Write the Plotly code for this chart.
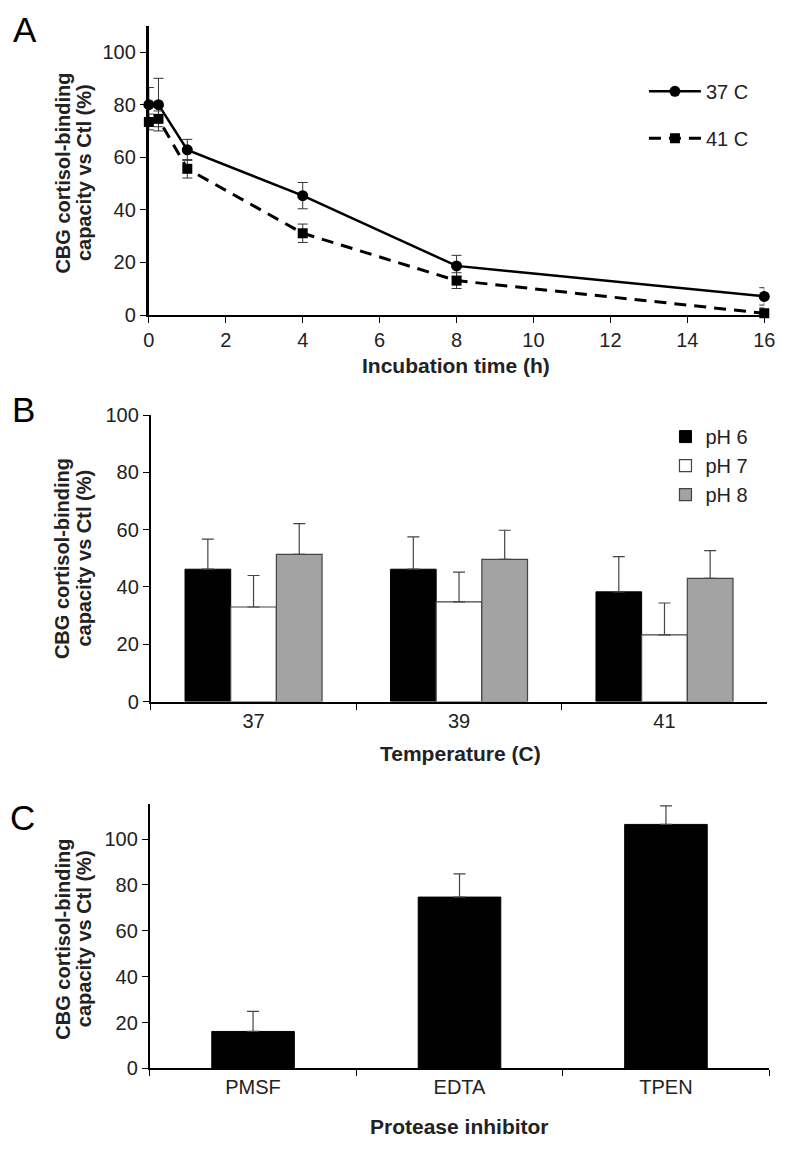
import plotly.graph_objects as go

# ---------------- data ----------------
# Panel A
time_h = [0, 0.25, 1, 4, 8, 16]
cap_37 = [80.0, 80.0, 62.8, 45.4, 18.7, 7.1]
err_37 = [6.5, 10.0, 4.0, 5.0, 4.0, 3.3]
cap_41 = [73.4, 74.6, 55.6, 31.1, 13.1, 0.7]
err_41 = [3.0, 3.0, 3.5, 3.5, 3.0, 2.0]

# Panel B
temps = ["37", "39", "41"]
ph6 = [46.2, 46.2, 38.3]
ph6_err = [10.5, 11.3, 12.3]
ph7 = [33.0, 34.8, 23.3]
ph7_err = [11.0, 10.4, 11.1]
ph8 = [51.4, 49.6, 43.0]
ph8_err = [10.7, 10.2, 9.7]

# Panel C
inhibitors = ["PMSF", "EDTA", "TPEN"]
cbg_c = [16.1, 74.7, 106.4]
cbg_c_err = [8.8, 10.1, 8.1]

W, H = 788, 1150
def px(x):
    return x / W
def py(y):
    return (H - y) / H

FONT = "Liberation Sans, Arial, sans-serif"
NARROW = "Liberation Sans Narrow, Arial Narrow, Liberation Sans, Arial, sans-serif"
TICKFONT = dict(family=FONT, size=20, color="#222")

fig = go.Figure()

# ---------------- Panel A ----------------
fig.add_trace(go.Scatter(
    x=time_h, y=cap_37, name="37 C", mode="lines+markers",
    line=dict(color="black", width=2.5),
    marker=dict(symbol="circle", size=11, color="black"),
    error_y=dict(type="data", array=err_37, color="#333", thickness=1, width=5),
    xaxis="x", yaxis="y", legend="legend", legendgroup="a1", cliponaxis=False))
fig.add_trace(go.Scatter(
    x=time_h, y=cap_41, name="41 C", mode="lines+markers",
    line=dict(color="black", width=3, dash="12px,8px"),
    marker=dict(symbol="square", size=10, color="black"),
    error_y=dict(type="data", array=err_41, color="#333", thickness=1, width=5),
    xaxis="x", yaxis="y", legend="legend", legendgroup="a2", cliponaxis=False))

# ---------------- Panel B ----------------
def upper(errs):
    return dict(type="data", symmetric=False, array=errs, arrayminus=[0] * len(errs),
                color="#444", thickness=1.2, width=6)

fig.add_trace(go.Bar(x=temps, y=ph6, name="pH 6", marker=dict(color="black", line=dict(color="black", width=1)),
                     error_y=upper(ph6_err), xaxis="x2", yaxis="y2", legend="legend2", legendgroup="b1"))
fig.add_trace(go.Bar(x=temps, y=ph7, name="pH 7", marker=dict(color="white", line=dict(color="#444", width=1.2)),
                     error_y=upper(ph7_err), xaxis="x2", yaxis="y2", legend="legend2", legendgroup="b2"))
fig.add_trace(go.Bar(x=temps, y=ph8, name="pH 8", marker=dict(color="#a3a3a3", line=dict(color="#444", width=1.2)),
                     error_y=upper(ph8_err), xaxis="x2", yaxis="y2", legend="legend2", legendgroup="b3"))

# ---------------- Panel C ----------------
fig.add_trace(go.Bar(x=inhibitors, y=cbg_c, name="C", showlegend=False,
                     marker=dict(color="black", line=dict(color="black", width=1)),
                     error_y=upper(cbg_c_err), xaxis="x3", yaxis="y3", width=0.4))

axis_common = dict(showgrid=False, zeroline=False, showline=True, linecolor="black",
                   ticks="outside", tickcolor="black", ticklen=6, tickfont=TICKFONT)
narrow_ticks = dict(family=NARROW, size=20, color="#222")

fig.update_layout(
    width=W, height=H, margin=dict(l=0, r=0, t=0, b=0),
    paper_bgcolor="white", plot_bgcolor="white",
    font=dict(family=FONT, color="black"),
    barmode="group", bargap=0.333, bargroupgap=0,
    xaxis=dict(domain=[px(146), px(775)], range=[0, 16], dtick=2, anchor="y",
               linewidth=2, **axis_common),
    yaxis=dict(domain=[py(310), py(15)], range=[0, 110], tickvals=[0, 20, 40, 60, 80, 100],
               anchor="x", linewidth=3, **axis_common),
    xaxis2=dict(domain=[px(148), px(778)], anchor="y2", type="category",
                tickson="boundaries", linewidth=2, **axis_common),
    yaxis2=dict(domain=[py(704), py(412)], range=[0, 100], dtick=20, anchor="x2",
                linewidth=2, **axis_common),
    xaxis3=dict(domain=[px(147), px(780)], anchor="y3", type="category",
                tickson="boundaries", linewidth=2,
                **{**axis_common, "tickfont": narrow_ticks}),
    yaxis3=dict(domain=[py(1078), py(808)], range=[0, 115.5], tickvals=[0, 20, 40, 60, 80, 100],
                anchor="x3", linewidth=2,
                **{**axis_common, "tickfont": narrow_ticks}),
    legend=dict(x=px(652), y=py(62), xanchor="left", yanchor="top",
                font=dict(family=FONT, size=20, color="#222"), itemwidth=52,
                tracegroupgap=18, bgcolor="rgba(0,0,0,0)"),
    legend2=dict(x=px(674), y=py(414), xanchor="left", yanchor="top",
                 font=dict(family=FONT, size=20, color="#222"), itemwidth=30,
                 tracegroupgap=0, bgcolor="rgba(0,0,0,0)"),
)

ann = []
for yc in (165, 558, 946):
    ann.append(dict(text="<b>CBG cortisol-binding</b>", x=px(58), y=py(yc), xref="paper", yref="paper",
                    textangle=-90, showarrow=False, xanchor="center", yanchor="middle",
                    font=dict(family=FONT, size=20, color="#222")))
    ann.append(dict(text="<b>capacity vs Ctl (%)</b>", x=px(80), y=py(yc), xref="paper", yref="paper",
                    textangle=-90, showarrow=False, xanchor="center", yanchor="middle",
                    font=dict(family=FONT, size=20, color="#222")))
ann.append(dict(text="<b>Incubation time (h)</b>", x=px(460), y=py(361), xref="paper", yref="paper",
                showarrow=False, xanchor="center", yanchor="middle",
                font=dict(family=FONT, size=21, color="#222")))
ann.append(dict(text="<b>Temperature (C)</b>", x=px(465), y=py(757), xref="paper", yref="paper",
                showarrow=False, xanchor="center", yanchor="middle",
                font=dict(family=FONT, size=21, color="#222")))
ann.append(dict(text="<b>Protease inhibitor</b>", x=px(463), y=py(1137), xref="paper", yref="paper",
                showarrow=False, xanchor="center", yanchor="middle",
                font=dict(family=NARROW, size=21, color="#222")))
for letter, xc, yc in (("A", 19, 19), ("B", 18, 406), ("C", 17, 822)):
    ann.append(dict(text=letter, x=px(xc), y=py(yc), xref="paper", yref="paper",
                    showarrow=False, xanchor="center", yanchor="middle",
                    font=dict(family=FONT, size=35, color="black")))
fig.update_layout(annotations=ann)

fig.write_html("out.html", config={"displayModeBar": False},
               post_script="document.body.style.margin='0';document.body.style.overflow='hidden';")
